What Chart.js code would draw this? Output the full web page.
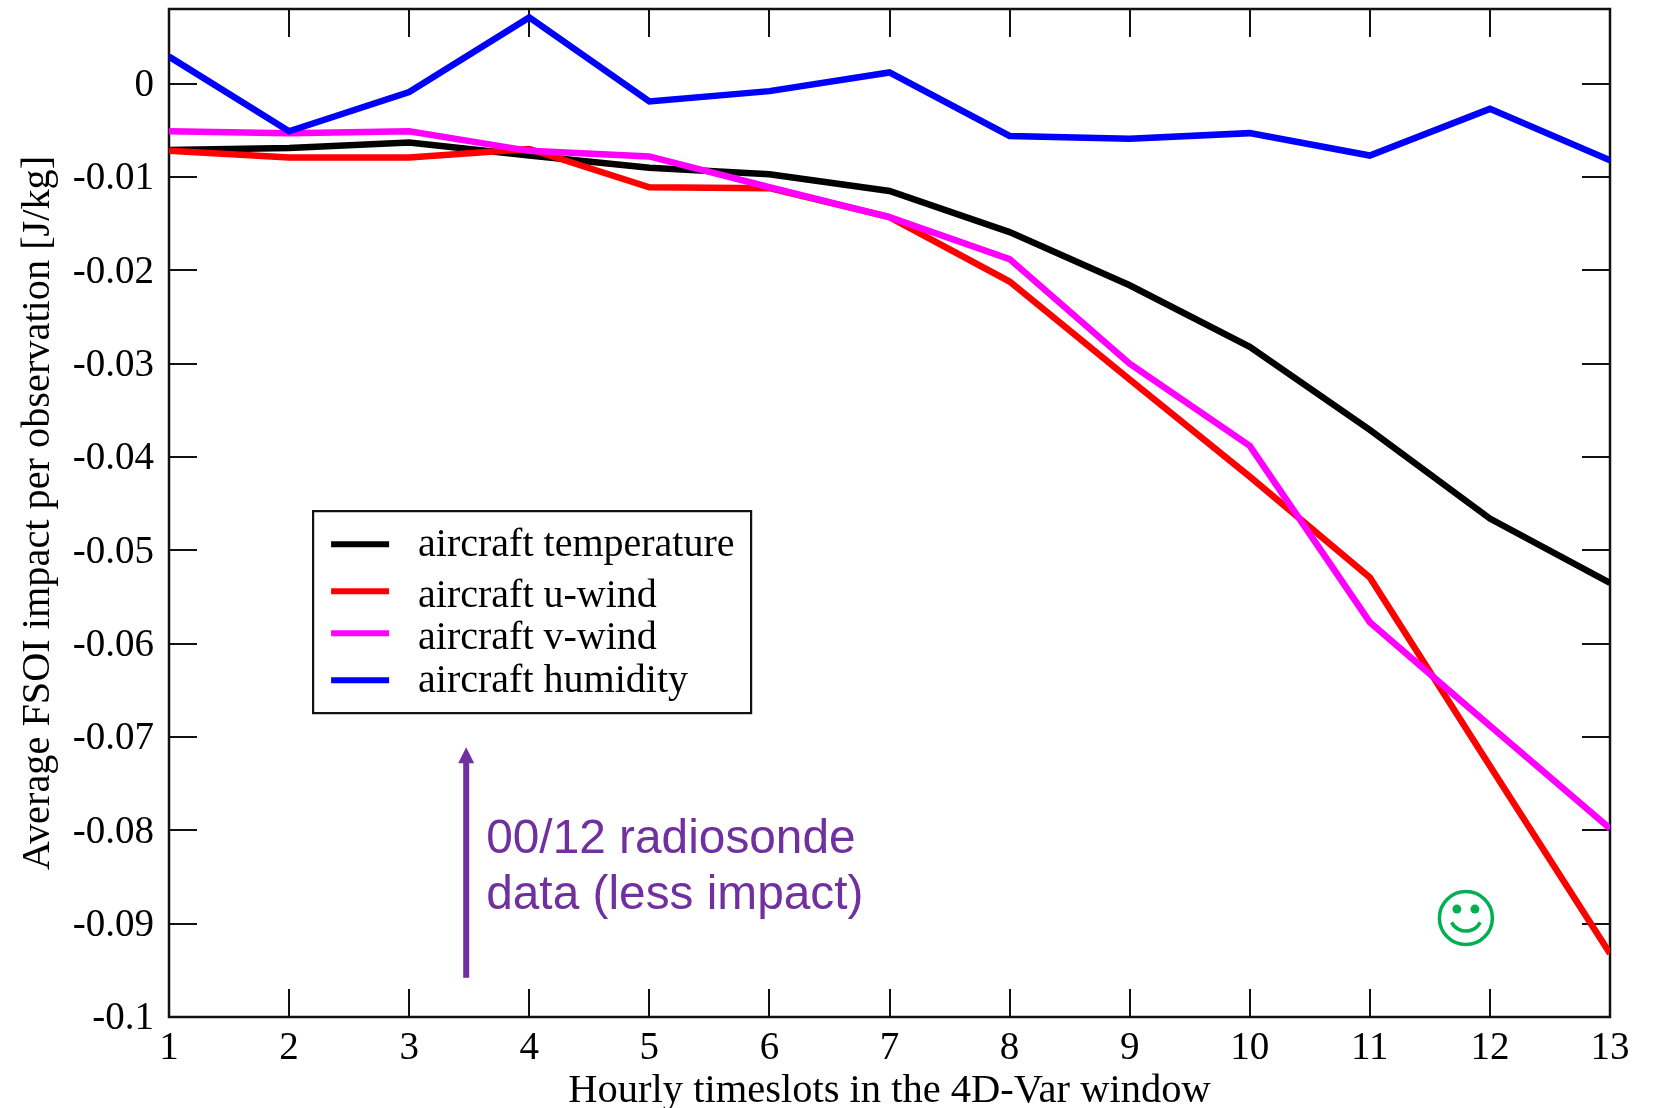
<!DOCTYPE html>
<html>
<head>
<meta charset="utf-8">
<style>html,body{margin:0;padding:0;background:#fff}canvas{display:block}</style>
<script src="https://cdn.jsdelivr.net/npm/chart.js@4"></script>
</head>
<body>
<canvas id="c" width="1653" height="1108"></canvas>
<script>
const timeslots = [1,2,3,4,5,6,7,8,9,10,11,12,13];
const yTicks = [0,-0.01,-0.02,-0.03,-0.04,-0.05,-0.06,-0.07,-0.08,-0.09,-0.1];
const temperature = [-0.0071,-0.0069,-0.0063,-0.0077,-0.0090,-0.0097,-0.0115,-0.0159,-0.0216,-0.0282,-0.0371,-0.0466,-0.0535];
const uWind = [-0.0072,-0.0079,-0.0079,-0.0070,-0.0111,-0.0112,-0.0143,-0.0212,-0.0317,-0.0421,-0.0529,-0.0731,-0.0932];
const vWind = [-0.0051,-0.0053,-0.0051,-0.0072,-0.0078,-0.0111,-0.0143,-0.0188,-0.0300,-0.0388,-0.0577,-0.0688,-0.0798];
const humidity = [0.0029,-0.0051,-0.0009,0.0071,-0.0019,-0.0008,0.0012,-0.0056,-0.0059,-0.0053,-0.0077,-0.0027,-0.0082];
const seriesNames = ['aircraft temperature','aircraft u-wind','aircraft v-wind','aircraft humidity'];
const seriesColors = ['#000000','#ff0000','#ff00ff','#0000ff'];
const seriesValues = [temperature,uWind,vWind,humidity];
const noteLines = ['00/12 radiosonde','data (less impact)'];
const SERIF = '"Liberation Serif","Times New Roman",serif';
const SANS = '"Liberation Sans",Arial,sans-serif';
const PURPLE = '#7030a0';
const GREEN = '#00b050';

const frame = {
  id:'frame',
  beforeDatasetsDraw(chart){
    const {ctx,chartArea:a,scales:{x,y}} = chart;
    ctx.save();
    ctx.strokeStyle='#111'; ctx.lineWidth=2;
    const L=28;
    ctx.beginPath();
    timeslots.forEach(t=>{
      if(t===1||t===13) return;
      const px=Math.round(x.getPixelForValue(t));
      ctx.moveTo(px,a.bottom); ctx.lineTo(px,a.bottom-L);
      ctx.moveTo(px,a.top); ctx.lineTo(px,a.top+L);
    });
    yTicks.forEach(v=>{
      if(v===-0.1) return;
      const py=Math.round(y.getPixelForValue(v));
      ctx.moveTo(a.left,py); ctx.lineTo(a.left+L,py);
      ctx.moveTo(a.right,py); ctx.lineTo(a.right-L,py);
    });
    ctx.stroke();
    ctx.lineWidth=2.5;
    ctx.strokeRect(a.left,a.top,a.right-a.left,a.bottom-a.top);
    ctx.restore();
  },
  afterDatasetsDraw(chart){
    const {ctx,scales:{x,y}} = chart;
    ctx.save();
    // legend box
    const lx=x.getPixelForValue(2.2), ly=y.getPixelForValue(-0.0458);
    const lr=lx+438, lb=ly+202;
    ctx.fillStyle='#fff'; ctx.fillRect(lx,ly,lr-lx,lb-ly);
    ctx.strokeStyle='#111'; ctx.lineWidth=2.2; ctx.strokeRect(lx,ly,lr-lx,lb-ly);
    const rowY=[33,80,122,169];
    const textDy=[1,5,5,1];
    ctx.font='40px '+SERIF; ctx.textBaseline='middle'; ctx.textAlign='left';
    seriesNames.forEach((n,i)=>{
      ctx.strokeStyle=seriesColors[i]; ctx.lineWidth=6;
      ctx.beginPath(); ctx.moveTo(lx+18,ly+rowY[i]); ctx.lineTo(lx+76,ly+rowY[i]); ctx.stroke();
      ctx.fillStyle='#000'; ctx.fillText(n,lx+105,ly+rowY[i]+textDy[i]);
    });
    // arrow
    const ax=x.getPixelForValue(3.475), ay0=y.getPixelForValue(-0.0958), ay1=y.getPixelForValue(-0.0711);
    ctx.strokeStyle=PURPLE; ctx.fillStyle=PURPLE; ctx.lineWidth=6;
    ctx.beginPath(); ctx.moveTo(ax,ay0); ctx.lineTo(ax,ay1+14); ctx.stroke();
    ctx.beginPath(); ctx.moveTo(ax,ay1); ctx.lineTo(ax+8,ay1+16); ctx.lineTo(ax-8,ay1+16); ctx.closePath(); ctx.fill();
    // note
    ctx.font='47.8px '+SANS; ctx.textBaseline='alphabetic';
    noteLines.forEach((t,i)=>ctx.fillText(t,ax+20,y.getPixelForValue(-0.0824)+i*56));
    // smiley
    const sx=x.getPixelForValue(11.8), sy=y.getPixelForValue(-0.0894);
    ctx.strokeStyle=GREEN; ctx.fillStyle=GREEN; ctx.lineWidth=3.5;
    ctx.beginPath(); ctx.arc(sx,sy,26.5,0,Math.PI*2); ctx.stroke();
    [-9,9].forEach(d=>{ctx.beginPath(); ctx.arc(sx+d,sy-9,4.5,0,Math.PI*2); ctx.fill();});
    ctx.beginPath(); ctx.arc(sx,sy-3,16,0.15*Math.PI,0.85*Math.PI); ctx.stroke();
    ctx.restore();
  }
};

new Chart(document.getElementById('c'),{
  type:'line',
  data:{
    datasets:seriesValues.map((vals,i)=>({
      label:seriesNames[i],
      data:timeslots.map((t,k)=>({x:t,y:vals[k]})),
      borderColor:seriesColors[i],
      backgroundColor:seriesColors[i],
      borderWidth:6.5,
      pointRadius:0,
      tension:0,
      fill:false,
      order:seriesValues.length-i
    }))
  },
  options:{
    responsive:false,
    animation:false,
    layout:{autoPadding:false,padding:{left:14,right:43,top:9,bottom:0}},
    plugins:{legend:{display:false},tooltip:{enabled:false},title:{display:false}},
    scales:{
      x:{
        type:'linear',min:1,max:13,
        afterBuildTicks(s){s.ticks=timeslots.map(v=>({value:v}));},
        afterFit(s){s.height=91;s.paddingLeft=0;s.paddingRight=0;},
        grid:{display:false},border:{display:false},
        ticks:{color:'#000',font:{family:SERIF,size:39},padding:0,maxRotation:0,autoSkip:false,callback:v=>String(v)},
        title:{display:true,text:'Hourly timeslots in the 4D-Var window',color:'#000',font:{family:SERIF,size:40.5},padding:{top:-2,bottom:-8}}
      },
      y:{
        type:'linear',min:-0.1,max:0.008,
        afterBuildTicks(s){s.ticks=yTicks.map(v=>({value:v}));},
        afterFit(s){s.width=155;s.paddingTop=0;s.paddingBottom=0;},
        grid:{display:false},border:{display:false},
        ticks:{color:'#000',font:{family:SERIF,size:39},padding:7,labelOffset:2,autoSkip:false,callback:v=>v===0?'0':String(+v.toFixed(2))},
        title:{display:true,text:'Average FSOI impact per observation [J/kg]',color:'#000',font:{family:SERIF,size:40.3},padding:{top:0,bottom:0}}
      }
    }
  },
  plugins:[frame]
});
</script>
</body>
</html>
